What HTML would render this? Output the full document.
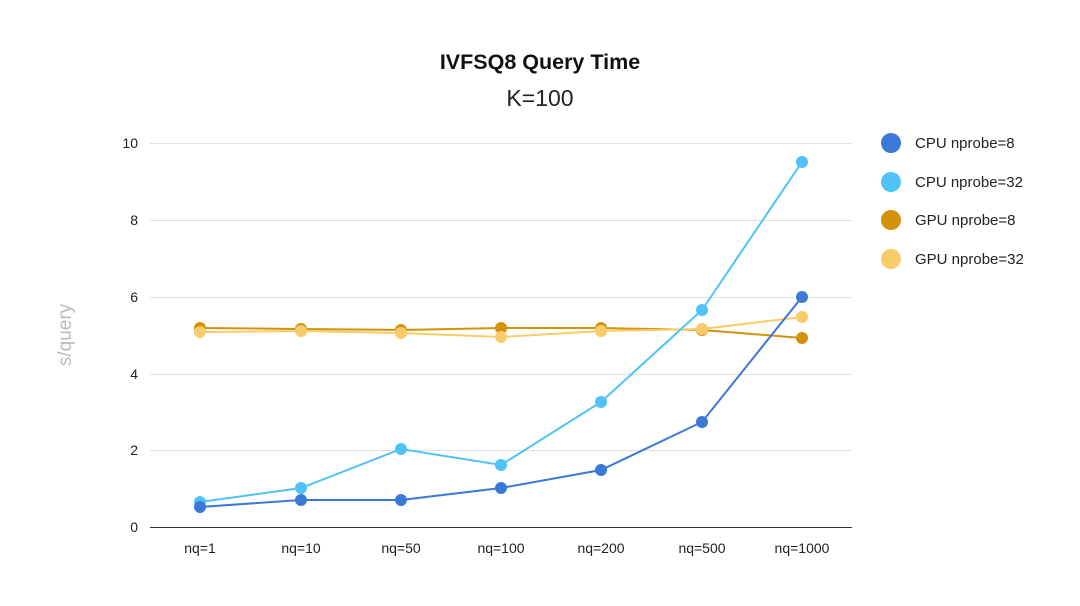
<!DOCTYPE html>
<html><head><meta charset="utf-8"><style>
body{margin:0;background:#fff;}
svg{display:block;font-family:"Liberation Sans",Arial,sans-serif;}
</style></head><body>
<svg width="1080" height="606" viewBox="0 0 1080 606" xmlns="http://www.w3.org/2000/svg">
<rect width="1080" height="606" fill="#fff"/>
<text x="540" y="69" text-anchor="middle" font-size="21.5" font-weight="bold" fill="#111">IVFSQ8 Query Time</text>
<text x="540" y="106" text-anchor="middle" font-size="23" fill="#222">K=100</text>
<g stroke="#e0e0e0" stroke-width="1">
<line x1="150" y1="143.5" x2="852" y2="143.5"/>
<line x1="150" y1="220.5" x2="852" y2="220.5"/>
<line x1="150" y1="297.5" x2="852" y2="297.5"/>
<line x1="150" y1="374.5" x2="852" y2="374.5"/>
<line x1="150" y1="450.5" x2="852" y2="450.5"/>
</g>
<line x1="150" y1="527.5" x2="852" y2="527.5" stroke="#333" stroke-width="1"/>
<g font-size="14" fill="#222" text-anchor="end">
<text x="138" y="148">10</text><text x="138" y="225">8</text><text x="138" y="302">6</text>
<text x="138" y="379">4</text><text x="138" y="455">2</text><text x="138" y="532">0</text>
</g>
<text transform="translate(71,335) rotate(-90)" text-anchor="middle" font-size="19" fill="#bbb">s/query</text>
<g font-size="14" fill="#222" text-anchor="middle">
<text x="200" y="553">nq=1</text><text x="301" y="553">nq=10</text><text x="401" y="553">nq=50</text>
<text x="501" y="553">nq=100</text><text x="601" y="553">nq=200</text><text x="702" y="553">nq=500</text>
<text x="802" y="553">nq=1000</text>
</g>
<g fill="none" stroke-width="2">
<polyline stroke="#d4920a" points="200,328 301,329 401,330 501,328 601,328 702,330 802,338"/>
<polyline stroke="#f9cc6b" points="200,332 301,331 401,333 501,337 601,331 702,329 802,317"/>
<polyline stroke="#4fc3f7" points="200,502 301,488 401,449 501,465 601,402 702,310 802,162"/>
<polyline stroke="#3c78d8" points="200,507 301,500 401,500 501,488 601,470 702,422 802,297"/>
</g>
<g fill="#d4920a"><circle cx="200" cy="328" r="6"/><circle cx="301" cy="329" r="6"/><circle cx="401" cy="330" r="6"/><circle cx="501" cy="328" r="6"/><circle cx="601" cy="328" r="6"/><circle cx="702" cy="330" r="6"/><circle cx="802" cy="338" r="6"/></g>
<g fill="#f9cc6b"><circle cx="200" cy="332" r="6"/><circle cx="301" cy="331" r="6"/><circle cx="401" cy="333" r="6"/><circle cx="501" cy="337" r="6"/><circle cx="601" cy="331" r="6"/><circle cx="702" cy="329" r="6"/><circle cx="802" cy="317" r="6"/></g>
<g fill="#4fc3f7"><circle cx="200" cy="502" r="6"/><circle cx="301" cy="488" r="6"/><circle cx="401" cy="449" r="6"/><circle cx="501" cy="465" r="6"/><circle cx="601" cy="402" r="6"/><circle cx="702" cy="310" r="6"/><circle cx="802" cy="162" r="6"/></g>
<g fill="#3c78d8"><circle cx="200" cy="507" r="6"/><circle cx="301" cy="500" r="6"/><circle cx="401" cy="500" r="6"/><circle cx="501" cy="488" r="6"/><circle cx="601" cy="470" r="6"/><circle cx="702" cy="422" r="6"/><circle cx="802" cy="297" r="6"/></g>
<g font-size="15" fill="#222">
<circle cx="891" cy="143" r="10" fill="#3c78d8"/><text x="915" y="148">CPU nprobe=8</text>
<circle cx="891" cy="182" r="10" fill="#4fc3f7"/><text x="915" y="187">CPU nprobe=32</text>
<circle cx="891" cy="220" r="10" fill="#d4920a"/><text x="915" y="225">GPU nprobe=8</text>
<circle cx="891" cy="259" r="10" fill="#f9cc6b"/><text x="915" y="264">GPU nprobe=32</text>
</g>
</svg>
</body></html>
